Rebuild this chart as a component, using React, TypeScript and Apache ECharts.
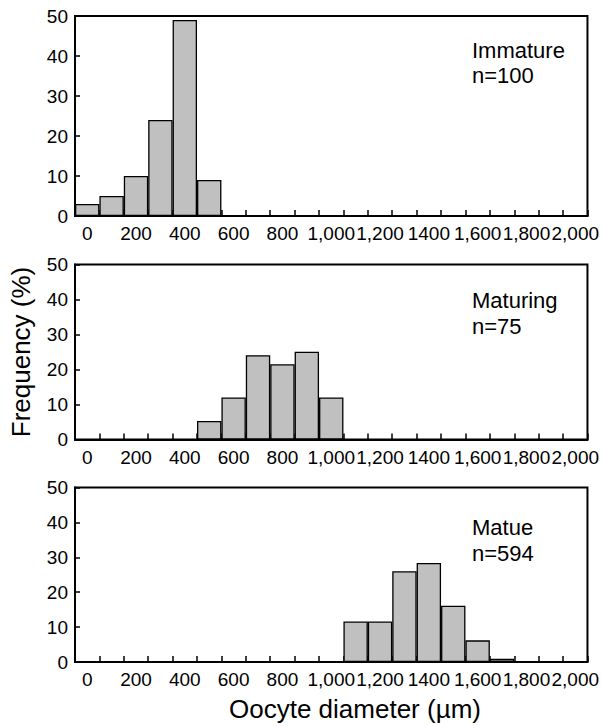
import React, { useEffect, useRef } from "react";
import * as echarts from "echarts";

const categories = [
  "0", "100", "200", "300", "400", "500", "600", "700", "800", "900",
  "1,000", "1,100", "1,200", "1,300", "1400", "1,500", "1,600", "1,700", "1,800", "1,900", "2,000",
];

const immature = [3, 5, 10, 24, 49, 9, null, null, null, null, null, null, null, null, null, null, null, null, null, null, null];
const maturing = [null, null, null, null, null, 5.3, 12, 24.1, 21.5, 25.1, 12, null, null, null, null, null, null, null, null, null, null];
const mature = [null, null, null, null, null, null, null, null, null, null, null, 11.6, 11.6, 26, 28.4, 16.1, 6.2, 0.9, null, null, null];

const panelNames = ["Immature", "Maturing", "Matue"];
const panelCounts = ["n=100", "n=75", "n=594"];
const yTitle = "Frequency (%)";
const xTitle = "Oocyte diameter (µm)";

const FONT = "'Liberation Sans', Arial, sans-serif";

export default function App() {
  const ref = useRef<HTMLDivElement>(null);
  useEffect(() => {
    if (!ref.current) return;
    const chart = echarts.init(ref.current, null, { renderer: "svg" });
    const grids = [
      { left: 75, top: 16, width: 514, height: 200 },
      { left: 75, top: 264.5, width: 514, height: 175 },
      { left: 75, top: 487.5, width: 514, height: 174.5 },
    ];
    const datasets = [immature, maturing, mature];
    const textY = [
      [51.5, 76.5],
      [301.5, 327.5],
      [528, 554],
    ];
    const option: any = {
      animation: false,
      backgroundColor: "#fff",
      grid: grids.map((g) => ({
        ...g,
        show: true,
        borderColor: "#000",
        borderWidth: 2,
        containLabel: false,
      })),
      xAxis: grids.map((_, i) => ({
        type: "category",
        gridIndex: i,
        data: categories,
        boundaryGap: true,
        axisLine: { show: true, lineStyle: { color: "#000", width: 2 } },
        axisTick: {
          show: true,
          inside: true,
          length: 6,
          interval: 0,
          lineStyle: { color: "#000", width: 1.5 },
        },
        axisLabel: {
          interval: 1,
          color: "#000",
          fontSize: 19,
          fontFamily: FONT,
          margin: 8,
        },
        splitLine: { show: false },
      })),
      yAxis: grids.map((_, i) => ({
        type: "value",
        gridIndex: i,
        min: 0,
        max: 50,
        interval: 10,
        axisLine: { show: true, lineStyle: { color: "#000", width: 2 } },
        axisTick: {
          show: true,
          inside: true,
          length: 5,
          lineStyle: { color: "#000", width: 1.5 },
        },
        axisLabel: {
          color: "#000",
          fontSize: 19,
          fontFamily: FONT,
          margin: 7,
        },
        splitLine: { show: false },
      })),
      series: datasets.map((d, i) => ({
        type: "bar",
        xAxisIndex: i,
        yAxisIndex: i,
        data: d,
        barCategoryGap: "0%",
        barGap: "0%",
        itemStyle: { color: "#c0c0c0", borderColor: "#000", borderWidth: 1.3 },
        z: 1,
      })),
      graphic: [
        ...panelNames.flatMap((name, i) => [
          {
            type: "text",
            left: 472,
            top: textY[i][0] - 12,
            style: { text: name, fill: "#000", font: `22px ${FONT}` },
          },
          {
            type: "text",
            left: 472,
            top: textY[i][1] - 12,
            style: { text: panelCounts[i], fill: "#000", font: `22px ${FONT}` },
          },
        ]),
        {
          type: "text",
          x: 21,
          y: 352,
          rotation: Math.PI / 2,
          style: {
            text: yTitle,
            fill: "#000",
            font: `26px ${FONT}`,
            textAlign: "center",
            textVerticalAlign: "middle",
          },
        },
        {
          type: "text",
          x: 355,
          y: 709,
          style: {
            text: xTitle,
            fill: "#000",
            font: `26px ${FONT}`,
            textAlign: "center",
            textVerticalAlign: "middle",
          },
        },
      ],
    };
    chart.setOption(option);
    return () => chart.dispose();
  }, []);
  return (
    <div
      ref={ref}
      style={{ position: "absolute", left: 0, top: 0, width: 602, height: 726 }}
    />
  );
}
